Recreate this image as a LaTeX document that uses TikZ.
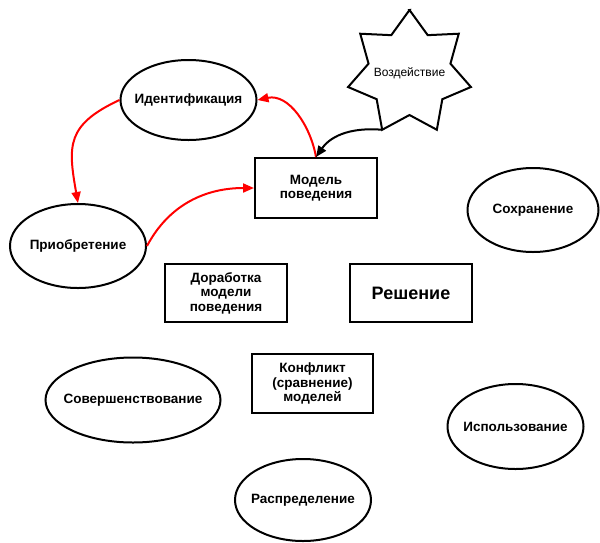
\documentclass[tikz,border=0pt]{standalone}
\usepackage{fontspec}
\setmainfont{Liberation Sans}
\usetikzlibrary{shapes.geometric,arrows.meta}

\begin{document}
\begin{tikzpicture}[x=1pt, y=1pt,
	oval/.style={ellipse, draw, line width=2pt, inner xsep=-12pt, inner ysep=0pt, font=\fontsize{13.5}{15}\selectfont\bfseries},
	box/.style={rectangle, draw, line width=2pt, inner sep=0pt, align=center, font=\fontsize{13.5}{14.5}\selectfont\bfseries},
	link/.style={line width=2pt, -{Triangle[length=11pt, width=9pt]}},
	]

	\useasboundingbox (0, 0) rectangle (600, -542);

	\node [oval, minimum width=136, minimum height=80] (ident) at (188.5, -100) {Идентификация};
	\node [oval, minimum width=136, minimum height=84] (acq) at (78, -246) {Приобретение};
	\node [oval, minimum width=131, minimum height=84] (keep) at (533, -210) {Сохранение};
	\node [oval, minimum width=175, minimum height=85] (improve) at (133, -400) {Совершенствование};
	\node [oval, minimum width=136, minimum height=85] (usage) at (515.5, -426.5) {Использование};
	\node [oval, minimum width=136, minimum height=82] (spread) at (303, -500) {Распределение};

	\node [box, minimum width=122, minimum height=60] (model) at (316, -188) {Модель\\поведения};
	\node [box, minimum width=122, minimum height=58] (refine) at (226, -293) {Доработка\\модели\\поведения};
	\node [box, minimum width=122, minimum height=58, font=\fontsize{18}{20}\selectfont\bfseries] (decision) at (411, -293) {Решение};
	\node [box, minimum width=121, minimum height=59] (conflict) at (312.5, -383.5) {Конфликт\\(сравнение)\\моделей};

	\begin{scope}[shift={(409.5, -73)}]
		\draw [line width=2pt, line join=miter] (90:63)
			\foreach \k in {0,...,6} { -- ({115.71+\k*51.43}:42) -- ({141.43+\k*51.43}:63) } -- cycle;
		\node [font=\fontsize{12}{13}\selectfont] (impact) at (0, 0) {Воздействие};
		\coordinate (impacttip) at (244.29:63);
	\end{scope}

	\draw [link, red] (ident.west) to[out=205, in=100, looseness=1.35] (acq.north);
	\draw [link, red] (acq.east) to[out=62, in=180] (model.west);
	\draw [link, red] (model.north) to[out=100, in=12] (ident.east);
	\draw [link] (impacttip) to[out=175, in=55] (model.north);

\end{tikzpicture}
\end{document}
